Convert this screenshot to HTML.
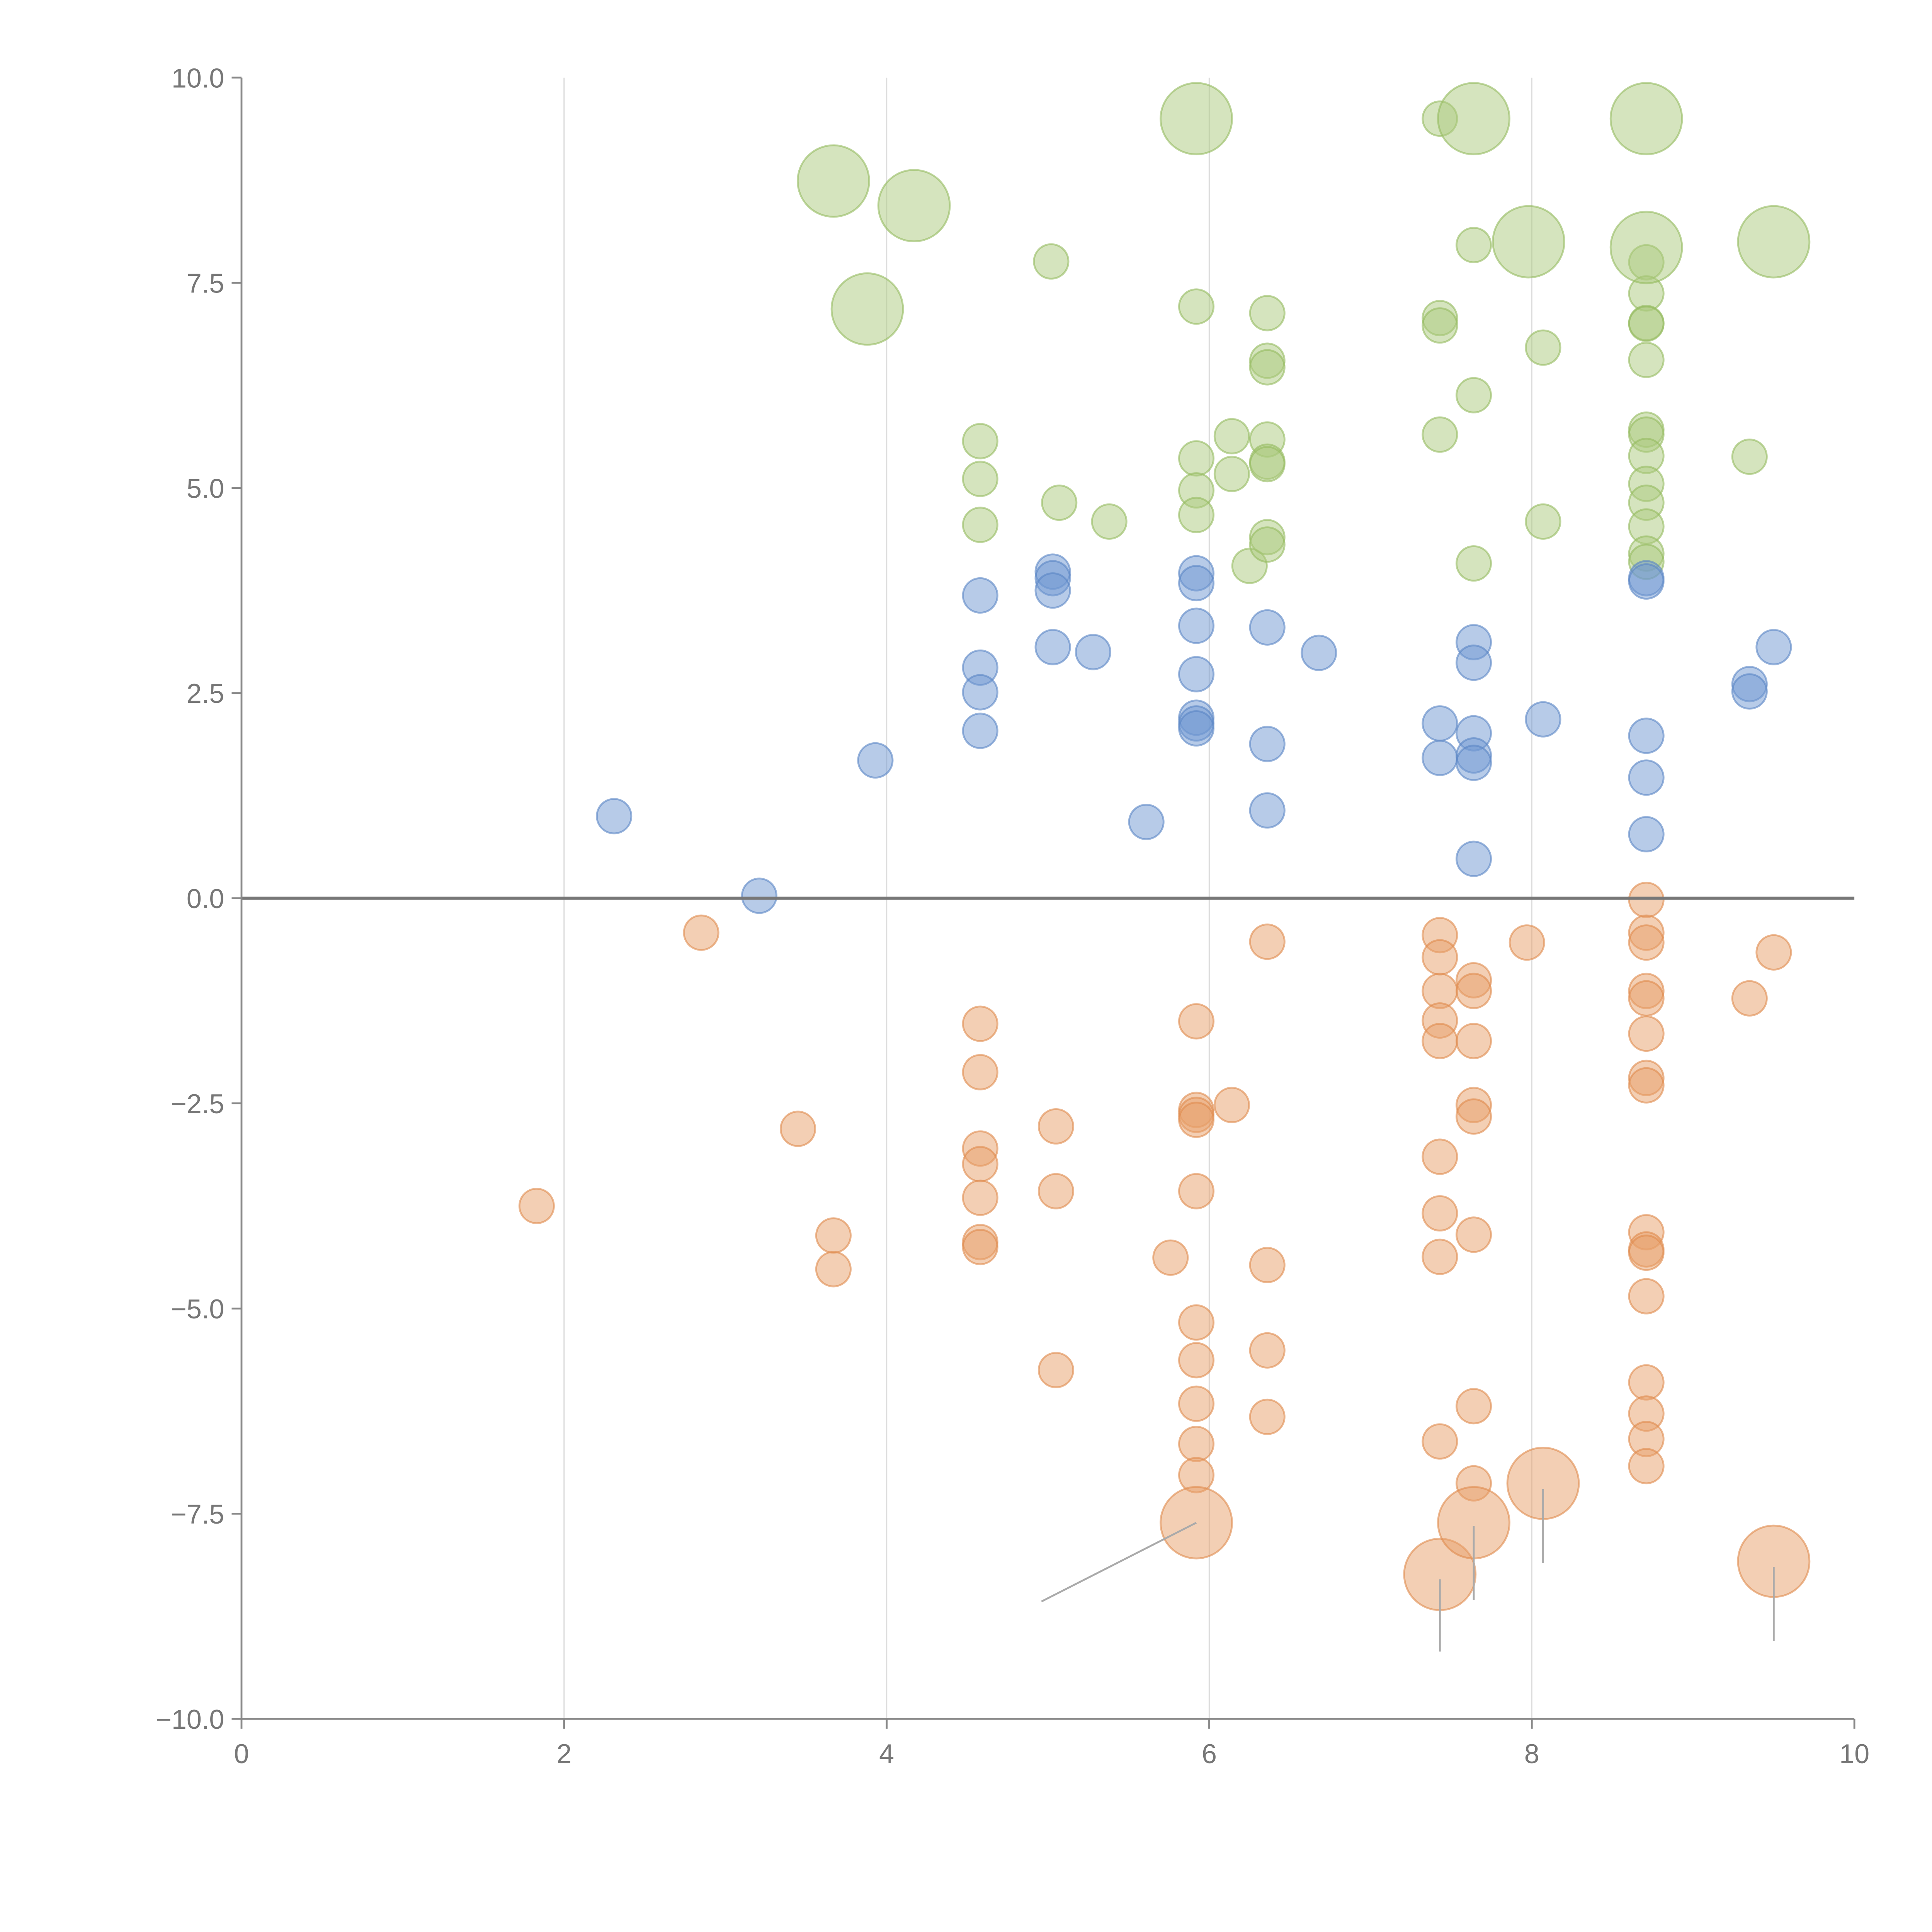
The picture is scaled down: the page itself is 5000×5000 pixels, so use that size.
<!DOCTYPE html>
<html><head><meta charset="utf-8"><style>html,body{margin:0;padding:0;background:#fff}svg{display:block}</style></head>
<body>
<svg id="chart" width="5000" height="5000" viewBox="0 0 1568 1568" xmlns="http://www.w3.org/2000/svg" font-family="Liberation Sans, sans-serif">
<g id="grid"></g>
<g id="marks"></g>
<g id="axes"></g>
</svg>
<script>
const xTicks=[0,2,4,6,8,10];
const yTicks=[10,7.5,5,2.5,0,-2.5,-5,-7.5,-10];
const blueX=[2.31,3.21,3.93,4.58,4.58,4.58,4.58,5.03,5.03,5.03,5.03,5.28,5.61,5.92,5.92,5.92,5.92,5.92,5.92,5.92,6.36,6.36,6.36,6.68,7.43,7.43,7.64,7.64,7.64,7.64,7.64,7.64,8.07,8.71,8.71,8.71,8.71,8.71,9.35,9.35,9.5];
const blueY=[1.0,0.03,1.68,3.69,2.81,2.51,2.04,3.98,3.9,3.75,3.06,3.0,0.93,3.96,3.84,3.32,2.73,2.2,2.13,2.07,3.3,1.88,1.07,2.99,2.13,1.71,3.12,2.87,2.01,1.74,1.65,0.48,2.18,3.9,3.86,1.98,1.47,0.78,2.61,2.52,3.06];
const greenX=[5.02,4.58,4.58,4.58,5.07,5.38,5.92,5.92,5.92,5.92,6.14,6.14,6.25,6.36,6.36,6.36,6.36,6.36,6.36,6.36,6.36,7.43,7.43,7.43,7.43,7.64,7.64,7.64,8.07,8.07,8.71,8.71,8.71,8.71,8.71,8.71,8.71,8.71,8.71,8.71,8.71,8.71,8.71,9.35];
const greenY=[7.76,5.57,5.11,4.55,4.82,4.59,7.21,5.36,4.97,4.67,5.63,5.17,4.05,7.13,6.55,6.47,5.59,5.32,5.29,4.4,4.31,9.5,7.07,6.98,5.65,7.96,6.13,4.08,6.71,4.59,7.75,7.37,7.01,7.0,6.56,5.71,5.65,5.39,5.05,4.82,4.53,4.2,4.1,5.38];
const greenBigX=[3.67,4.17,3.88,5.92,7.64,7.98,8.71,8.71,9.5];
const greenBigY=[8.74,8.44,7.18,9.5,9.5,8.0,9.5,7.93,8.0];
const orangeX=[2.85,1.83,3.45,3.67,3.67,4.58,4.58,4.58,4.58,4.58,4.58,4.58,5.05,5.05,5.05,5.76,5.92,5.92,5.92,5.92,5.92,5.92,5.92,5.92,5.92,5.92,6.14,6.36,6.36,6.36,6.36,7.43,7.43,7.43,7.43,7.43,7.43,7.43,7.43,7.43,7.64,7.64,7.64,7.64,7.64,7.64,7.64,7.64,7.97,8.71,8.71,8.71,8.71,8.71,8.71,8.71,8.71,8.71,8.71,8.71,8.71,8.71,8.71,8.71,8.71,9.35,9.5];
const orangeY=[-0.42,-3.75,-2.81,-4.11,-4.52,-1.53,-2.12,-3.05,-3.24,-3.65,-4.19,-4.25,-2.78,-3.57,-5.75,-4.38,-1.5,-2.58,-2.64,-2.7,-3.57,-5.17,-5.63,-6.16,-6.65,-7.03,-2.52,-0.53,-4.47,-5.51,-6.32,-0.45,-0.72,-1.13,-1.49,-1.74,-3.15,-3.84,-4.37,-6.62,-1.0,-1.13,-1.74,-2.52,-2.66,-4.1,-6.19,-7.13,-0.54,-0.02,-0.42,-0.54,-1.13,-1.22,-1.65,-2.19,-2.28,-4.07,-4.28,-4.32,-4.85,-5.9,-6.28,-6.59,-6.92,-1.22,-0.66];
const orangeBigX=[5.92,7.43,7.64,8.07,9.5];
const orangeBigY=[-7.61,-8.24,-7.61,-7.13,-8.08];
const leaderX1=[5.92,7.43,7.64,8.07,9.5];
const leaderY1=[-7.61,-8.3,-7.65,-7.2,-8.15];
const leaderX2=[4.96,7.43,7.64,8.07,9.5];
const leaderY2=[-8.57,-9.18,-8.55,-8.1,-9.05];

const NS="http://www.w3.org/2000/svg";
const X0=196,X1=1505,Y0=63,Y1=1395;
const sx=v=>X0+(v-0)/(10-0)*(X1-X0);
const sy=v=>Y1-(v+10)/20*(Y1-Y0);
function mk(tag,attrs,parent){const e=document.createElementNS(NS,tag);for(const k in attrs)e.setAttribute(k,attrs[k]);parent.appendChild(e);return e;}
const grid=document.getElementById('grid'),marks=document.getElementById('marks'),axes=document.getElementById('axes');
xTicks.forEach(t=>{if(t>0&&t<10){const l=mk('line',{x1:sx(t),x2:sx(t),y1:Y0,y2:Y1,stroke:'#ddd','stroke-width':1},grid);

}});
function series(xs,ys,r,fill,stroke,name){xs.forEach((x,i)=>{const c=mk('circle',{cx:sx(x),cy:sy(ys[i]),r:r,fill:fill,'fill-opacity':0.5,stroke:stroke,'stroke-opacity':0.6,'stroke-width':1.5},marks);

});}
series(greenX,greenY,14,'#acc97e','#95ba5f','green');
series(greenBigX,greenBigY,29,'#acc97e','#95ba5f','green-large');
series(blueX,blueY,14,'#6f98d1','#5a86c4','blue');
series(orangeX,orangeY,14,'#e8a06a','#e08a4c','orange');
series(orangeBigX,orangeBigY,29,'#e8a06a','#e08a4c','orange-large');
leaderX1.forEach((x,i)=>{const l=mk('line',{x1:sx(x),y1:sy(leaderY1[i]),x2:sx(leaderX2[i]),y2:sy(leaderY2[i]),stroke:'#aaa','stroke-width':1.5},marks);

});
const zl=mk('line',{x1:X0,x2:X1,y1:sy(0),y2:sy(0),stroke:'#777','stroke-width':2.5},axes);


const ya=mk('line',{x1:X0,x2:X0,y1:Y0,y2:Y1,stroke:'#888','stroke-width':1.5},axes);


const xa=mk('line',{x1:X0,x2:X1,y1:Y1,y2:Y1,stroke:'#888','stroke-width':1.5},axes);


xTicks.forEach(t=>{mk('line',{x1:sx(t),x2:sx(t),y1:Y1,y2:Y1+8,stroke:'#888','stroke-width':1.5},axes);
const tx=mk('text',{x:sx(t),y:Y1+36,'text-anchor':'middle','font-size':22,fill:'#777'},axes);tx.textContent=t;

});
yTicks.forEach(t=>{mk('line',{x1:X0-8,x2:X0,y1:sy(t),y2:sy(t),stroke:'#888','stroke-width':1.5},axes);
const tx=mk('text',{x:X0-14,y:sy(t)+8,'text-anchor':'end','font-size':22,fill:'#777'},axes);tx.textContent=(t<0?'\u2212':'')+Math.abs(t).toFixed(1);

});
</script>
</body></html>
